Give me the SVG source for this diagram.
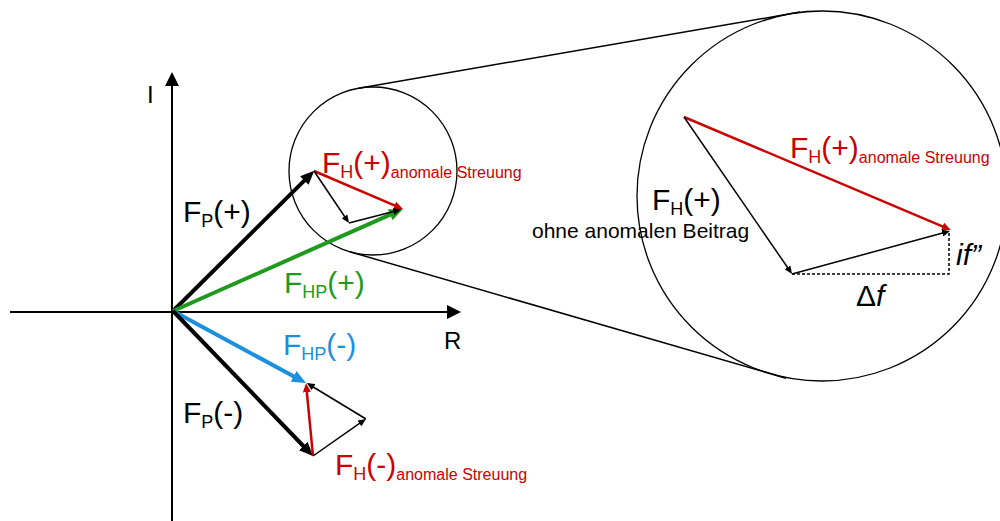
<svg xmlns="http://www.w3.org/2000/svg" width="1000" height="521" viewBox="0 0 1000 521">
<style>
text{font-family:"Liberation Sans",Arial,sans-serif}
.lbl{font-size:30px}
.sub{font-size:18px}
.an{font-size:16px}
.red{fill:#cc0000}
.grn{fill:#1f9a1f}
.blu{fill:#1d8fdf}
.blk{fill:#000}
.ax{stroke:#000;stroke-width:2;fill:none}
.circ{stroke:#000;stroke-width:1.3;fill:none}
.tan{stroke:#000;stroke-width:1.5;fill:none}
.vthick{stroke-width:4;fill:none}
.vred{stroke:#cc0000;stroke-width:2.5;fill:none}
.vthin{stroke:#000;stroke-width:1.5;fill:none}
.dash{stroke:#000;stroke-width:1.5;stroke-dasharray:3 2;fill:none}
</style>
<defs>
<marker id="mBlk" viewBox="0 0 10 10" refX="4" refY="5" markerWidth="14" markerHeight="12" markerUnits="userSpaceOnUse" orient="auto" preserveAspectRatio="none"><path d="M0,0L10,5L0,10z" fill="#000"/></marker>
<marker id="mGrn" viewBox="0 0 10 10" refX="4" refY="5" markerWidth="14" markerHeight="12" markerUnits="userSpaceOnUse" orient="auto" preserveAspectRatio="none"><path d="M0,0L10,5L0,10z" fill="#1f9a1f"/></marker>
<marker id="mBlu" viewBox="0 0 10 10" refX="4" refY="5" markerWidth="14" markerHeight="12" markerUnits="userSpaceOnUse" orient="auto" preserveAspectRatio="none"><path d="M0,0L10,5L0,10z" fill="#1d8fdf"/></marker>
<marker id="mRed" viewBox="0 0 10 10" refX="4" refY="5" markerWidth="9" markerHeight="8" markerUnits="userSpaceOnUse" orient="auto" preserveAspectRatio="none"><path d="M0,0L10,5L0,10z" fill="#cc0000"/></marker>
<marker id="mSm" viewBox="0 0 10 10" refX="4" refY="5" markerWidth="8" markerHeight="7" markerUnits="userSpaceOnUse" orient="auto" preserveAspectRatio="none"><path d="M0,0L10,5L0,10z" fill="#000"/></marker>
</defs>

<g id="axes">
<line class="ax" x1="172" y1="521" x2="172" y2="84"/>
<polygon points="172,72 165,86 179,86" fill="#000"/>
<line class="ax" x1="10" y1="312" x2="448" y2="312"/>
<polygon points="461,312 447,305 447,319" fill="#000"/>
<text x="147" y="103" font-size="24" class="blk">I</text>
<text x="444" y="349" font-size="24" class="blk">R</text>
</g>

<g id="zoom-circles">
<circle class="circ" cx="373" cy="171" r="84"/>
<circle class="circ" cx="822" cy="196" r="185"/>
<line class="tan" x1="358.7" y1="88.2" x2="800" y2="12.1"/>
<line class="tan" x1="349.6" y1="251.7" x2="786" y2="378.2"/>
</g>

<g id="connectors">
<line class="vthick" stroke="#000" x1="173" y1="311" x2="308.3" y2="176.6" marker-end="url(#mBlk)"/>
<line class="vthick" stroke="#1f9a1f" x1="173" y1="311" x2="395.3" y2="212.4" marker-end="url(#mGrn)"/>
<line class="vthick" stroke="#1d8fdf" x1="173" y1="311" x2="298.6" y2="379" marker-end="url(#mBlu)"/>
<line class="vthick" stroke="#000" x1="173" y1="311" x2="307.2" y2="450" marker-end="url(#mBlk)"/>
<line class="vred" x1="314" y1="171" x2="397.9" y2="206.8" marker-end="url(#mRed)"/>
<line class="vthin" x1="314" y1="171" x2="346.3" y2="219" marker-end="url(#mSm)"/>
<line class="vthin" x1="349" y1="223" x2="396.4" y2="210.7" marker-end="url(#mSm)"/>
<line class="vred" x1="313" y1="456" x2="306.5" y2="388.6" marker-end="url(#mRed)"/>
<line class="vthin" x1="313" y1="456" x2="362" y2="421.7" marker-end="url(#mSm)"/>
<line class="vthin" x1="366" y1="419" x2="310.8" y2="385.5" marker-end="url(#mSm)"/>
<line class="vred" x1="684" y1="117" x2="945.9" y2="227.8" marker-end="url(#mRed)"/>
<line class="vthin" x1="684" y1="117" x2="789.3" y2="270" marker-end="url(#mSm)"/>
<line class="vthin" x1="792" y1="274" x2="945.4" y2="232.3" marker-end="url(#mSm)"/>
<polyline class="dash" points="792,274 949,274 949,233"/>
</g>

<g id="label-fp-plus"><text class="lbl blk" x="183" y="222">F<tspan class="sub" dy="5">P</tspan><tspan dy="-5">(+)</tspan></text></g>
<g id="label-fh-plus-small"><text class="lbl red" x="322" y="173">F<tspan class="sub" dy="5">H</tspan><tspan dy="-5">(+)</tspan><tspan class="an" dy="5">anomale Streuung</tspan></text></g>
<g id="label-fhp-plus"><text class="lbl grn" x="284" y="293">F<tspan class="sub" dy="5">HP</tspan><tspan dy="-5">(+)</tspan></text></g>
<g id="label-fhp-minus"><text class="lbl blu" x="283" y="355">F<tspan class="sub" dy="5">HP</tspan><tspan dy="-5">(-)</tspan></text></g>
<g id="label-fp-minus"><text class="lbl blk" x="183" y="423">F<tspan class="sub" dy="5">P</tspan><tspan dy="-5">(-)</tspan></text></g>
<g id="label-fh-minus"><text class="lbl red" x="335" y="475">F<tspan class="sub" dy="5">H</tspan><tspan dy="-5">(-)</tspan><tspan class="an" dy="5">anomale Streuung</tspan></text></g>
<g id="label-fh-plus-big"><text class="lbl red" x="790" y="158">F<tspan class="sub" dy="5">H</tspan><tspan dy="-5">(+)</tspan><tspan class="an" dy="5">anomale Streuung</tspan></text></g>
<g id="label-fh-plus-black"><text class="lbl blk" x="652" y="210">F<tspan class="sub" dy="5">H</tspan><tspan dy="-5">(+)</tspan></text>
<text class="blk" x="532" y="238" font-size="21">ohne anomalen Beitrag</text></g>
<g id="label-if"><text class="blk" x="956" y="265" font-size="30" font-style="italic">if”</text></g>
<g id="label-df"><text class="blk" x="856" y="306" font-size="30">Δ<tspan font-style="italic">f</tspan></text></g>
</svg>
